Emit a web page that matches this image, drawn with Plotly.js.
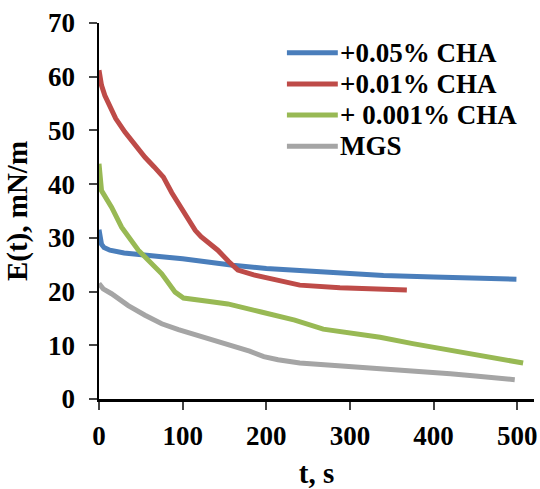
<!DOCTYPE html>
<html>
<head>
<meta charset="utf-8">
<script src="https://cdn.plot.ly/plotly-3.0.1.min.js"></script>
<style>html,body{margin:0;padding:0;background:#fff;}#chart{width:540px;height:489px;}</style>
</head>
<body>
<div id="chart"></div>
<script>
// Series: +0.05% CHA
const t005 = [0, 1, 3, 6, 13, 30, 50, 75, 100, 130, 160, 200, 240, 290, 340, 400, 450, 499];
const e005 = [31.5, 30, 28.8, 28.2, 27.7, 27.2, 26.8, 26.5, 26.1, 25.4, 24.9, 24.3, 23.9, 23.4, 23.0, 22.7, 22.5, 22.3];
// Series: +0.01% CHA
const t001 = [0, 1, 3, 7, 11, 20, 31, 43, 55, 66, 77, 87, 95, 107, 115, 122, 130, 142, 155, 166, 185, 208, 240, 288, 330, 368];
const e001 = [61.2, 60, 58.4, 56.5, 55, 52.2, 49.7, 47.3, 45, 43.2, 41.3, 38.4, 36.4, 33.5, 31.4, 30.2, 29.2, 27.7, 25.6, 24.0, 23.1, 22.3, 21.2, 20.7, 20.5, 20.3];
// Series: + 0.001% CHA
const t0001 = [0, 3, 15, 27, 47, 55, 75, 91, 101, 130, 154, 194, 234, 268, 300, 336, 375, 415, 455, 480, 507];
const e0001 = [43.8, 38.8, 35.7, 32, 27.7, 26.4, 23.3, 19.9, 18.8, 18.2, 17.7, 16.2, 14.7, 13.0, 12.3, 11.5, 10.3, 9.2, 8.1, 7.3, 6.7];
// Series: MGS
const tMGS = [0, 5, 15, 35, 55, 75, 95, 115, 135, 160, 180, 197, 214, 240, 270, 300, 330, 360, 390, 420, 450, 475, 497];
const eMGS = [21.5, 20.5, 19.6, 17.4, 15.6, 14.0, 12.9, 12.0, 10.9, 10.0, 8.9, 7.9, 7.3, 6.7, 6.4, 6.05, 5.7, 5.3, 5.0, 4.7, 4.3, 3.9, 3.6];

const names = ["+0.05% CHA", "+0.01% CHA", "+ 0.001% CHA", "MGS"];
const colors = ["#4A7EBB", "#BE4B48", "#98B954", "#A5A5A5"];
const xs = [t005, t001, t0001, tMGS];
const ys = [e005, e001, e0001, eMGS];

const font = "'Liberation Serif', 'Times New Roman', serif";
const traces = names.map((n, i) => ({
  x: xs[i], y: ys[i], name: n, type: "scatter", mode: "lines",
  line: {color: colors[i], width: 5, shape: "linear"}
}));

// Legend drawn as shapes + text (Excel-style long swatches, tight rows)
const legX0 = 0.432, legX1 = 0.549, legTextX = 0.549, legTop = 0.921, legStep = 0.083;
const shapes = [], annotations = [];
names.forEach((n, i) => {
  const yy = legTop - i * legStep;
  shapes.push({type: "line", xref: "paper", yref: "paper", x0: legX0, x1: legX1, y0: yy, y1: yy,
               line: {color: colors[i], width: 5}});
  annotations.push({xref: "paper", yref: "paper", x: legTextX, y: yy, xanchor: "left", yanchor: "middle",
                    text: n, showarrow: false,
                    font: {family: font, size: 27, color: "#000", weight: "bold"}});
});

const layout = {
  width: 540, height: 489,
  margin: {l: 99, r: 6, t: 23, b: 90},
  paper_bgcolor: "#fff", plot_bgcolor: "#fff",
  font: {family: font, size: 27, color: "#000"},
  showlegend: false,
  shapes: shapes, annotations: annotations,
  xaxis: {
    range: [0, 520], tickvals: [0, 100, 200, 300, 400, 500], ticks: "outside", ticklen: 8, tickwidth: 2,
    showline: true, linecolor: "#000", linewidth: 2.5, showgrid: false, zeroline: false,
    ticklabelstandoff: 3,
    tickfont: {family: font, size: 27, color: "#000", weight: "bold"},
    title: {text: "t, s", font: {family: font, size: 29, color: "#000", weight: "bold"}, standoff: 22}
  },
  yaxis: {
    range: [0, 70], dtick: 10, ticks: "outside", ticklen: 8, tickwidth: 2,
    showline: true, linecolor: "#000", linewidth: 2.5, showgrid: false, zeroline: false,
    ticklabelstandoff: 8,
    tickfont: {family: font, size: 27, color: "#000", weight: "bold"},
    title: {text: "E(t), mN/m", font: {family: font, size: 29, color: "#000", weight: "bold"}, standoff: 12}
  }
};
Plotly.newPlot("chart", traces, layout, {displayModeBar: false, staticPlot: true});
</script>
</body>
</html>
